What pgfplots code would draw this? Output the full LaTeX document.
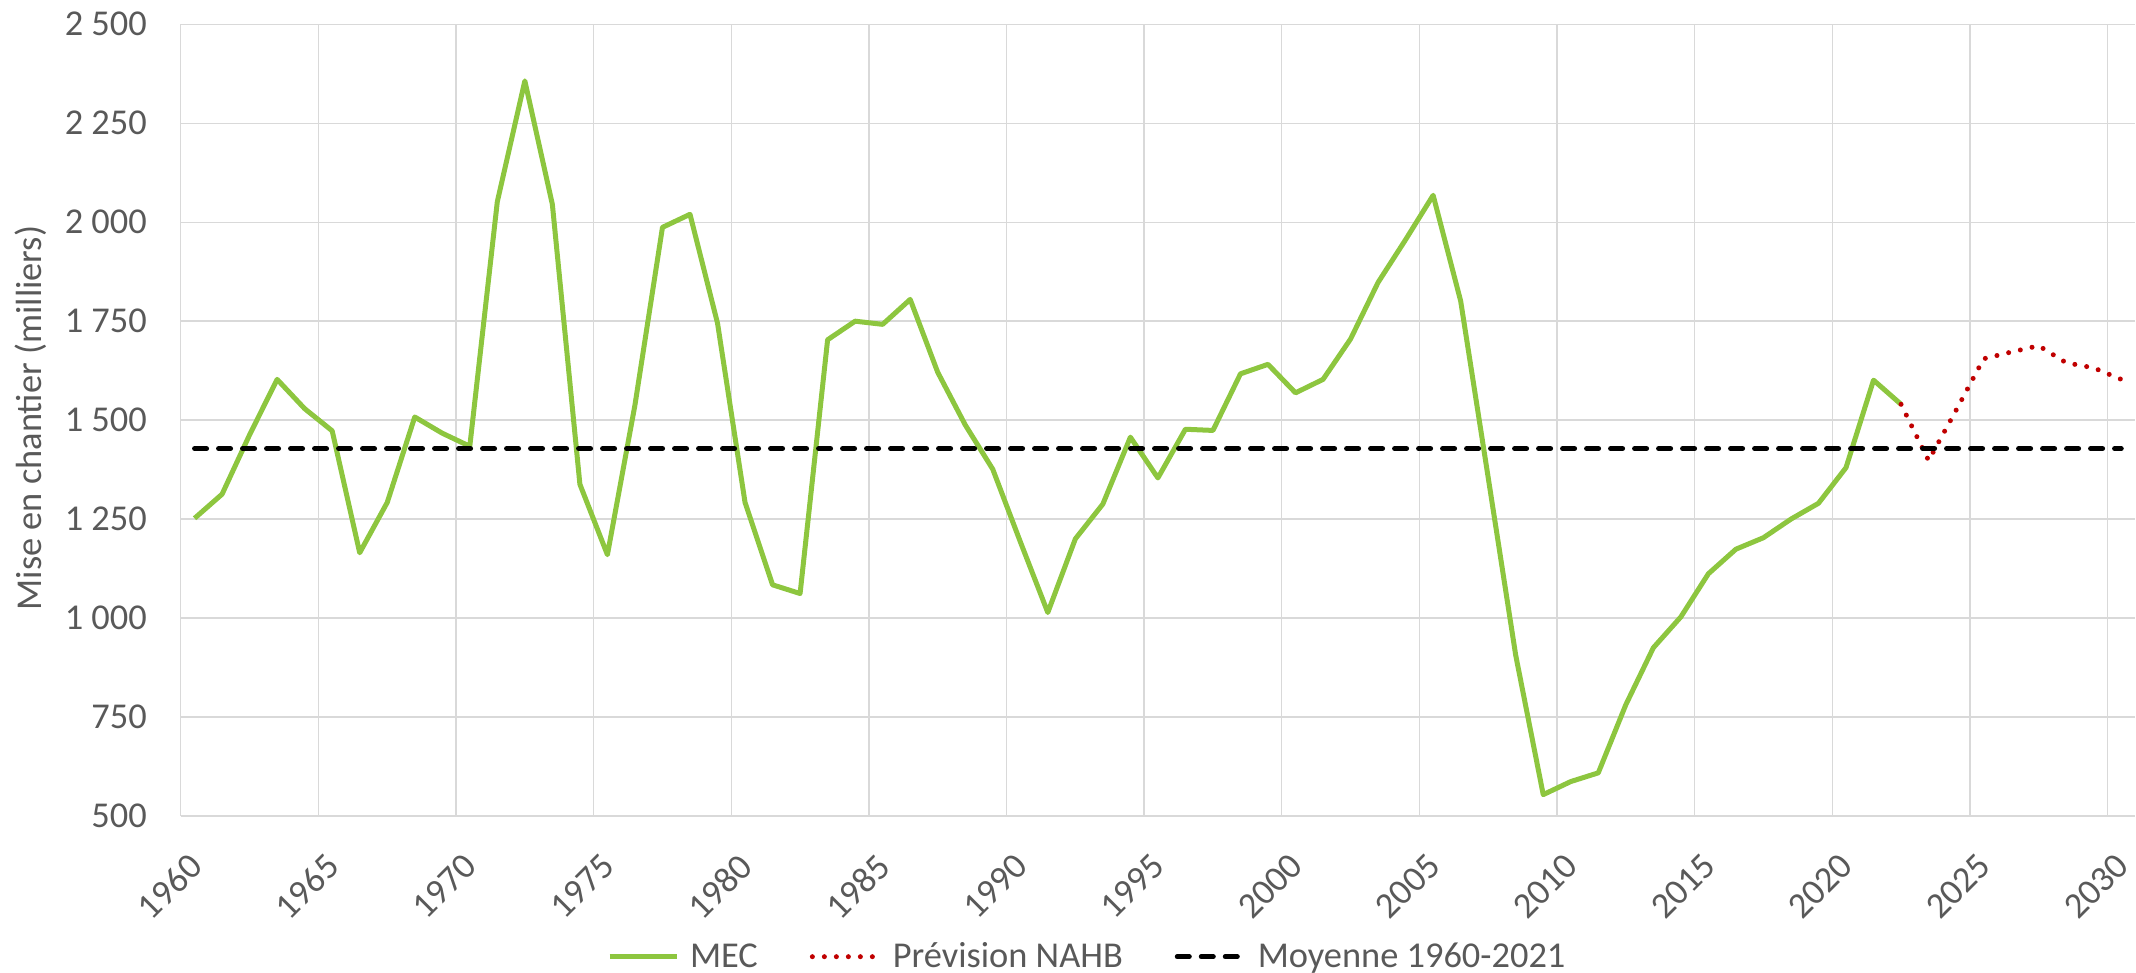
\documentclass[border=0pt]{standalone}
\usepackage{fontspec}
\setmainfont{Carlito}
\usepackage{pgfplots}
\pgfplotsset{compat=1.18}
\definecolor{mecgreen}{RGB}{141,198,63}
\definecolor{navred}{RGB}{192,0,0}
\definecolor{gridgray}{RGB}{217,217,217}
\definecolor{txtgray}{RGB}{89,89,89}
\begin{document}
\begin{tikzpicture}
\useasboundingbox (0,0) rectangle (1068bp,486.5bp);
\begin{axis}[
  at={(90.4bp,78.5bp)}, anchor=south west,
  scale only axis, width=977.1bp, height=395.85bp,
  xmin=1959.5, xmax=2030.5, ymin=500, ymax=2500,
  xtick={1959.5,1964.5,1969.5,1974.5,1979.5,1984.5,1989.5,1994.5,1999.5,2004.5,2009.5,2014.5,2019.5,2024.5,2029.5},
  xticklabels={1960,1965,1970,1975,1980,1985,1990,1995,2000,2005,2010,2015,2020,2025,2030},
  ytick={500,750,1000,1250,1500,1750,2000,2250,2500},
  yticklabels={500,750,1 000,1 250,1 500,1 750,2 000,2 250,2 500},
  major tick length=0pt,
  grid=major,
  major grid style={gridgray, line width=0.7bp},
  axis x line*=bottom, axis y line*=left,
  x axis line style={-, gridgray, line width=1bp},
  y axis line style={-, gridgray, line width=0.7bp},
  tick label style={font=\fontsize{18.2bp}{21bp}\selectfont, text=txtgray},
  yticklabel style={anchor=east, inner sep=0pt, xshift=-16.8bp},
  xticklabel style={xshift=3bp, yshift=-17.5bp, rotate=45, anchor=north east, inner sep=0pt},
  legend columns=3,
  legend style={at={(0.2181,-0.1777)}, anchor=west, draw=none, fill=none,
    inner sep=0pt, outer sep=0pt, column sep=0pt,
    nodes={inner sep=0pt, outer sep=0pt},
    font=\fontsize{18.2bp}{21bp}\selectfont, text=txtgray},
  legend image code/.code={\draw[#1] (0bp,0bp) -- (33.5bp,0bp); \path (39bp,0bp);},
]
\addplot[mecgreen, line width=2.5bp, line join=round] coordinates {
(1960,1252) (1961,1313) (1962,1463) (1963,1603) (1964,1529) (1965,1473)
(1966,1165) (1967,1292) (1968,1508) (1969,1467) (1970,1434) (1971,2052)
(1972,2357) (1973,2045) (1974,1338) (1975,1160) (1976,1538) (1977,1987)
(1978,2020) (1979,1745) (1980,1292) (1981,1084) (1982,1062) (1983,1703)
(1984,1750) (1985,1742) (1986,1805) (1987,1621) (1988,1488) (1989,1376)
(1990,1193) (1991,1014) (1992,1200) (1993,1288) (1994,1457) (1995,1354)
(1996,1477) (1997,1474) (1998,1617) (1999,1641) (2000,1569) (2001,1603)
(2002,1705) (2003,1848) (2004,1956) (2005,2068) (2006,1801) (2007,1355)
(2008,906) (2009,554) (2010,587) (2011,609) (2012,781) (2013,925)
(2014,1003) (2015,1112) (2016,1174) (2017,1203) (2018,1250) (2019,1290)
(2020,1380) (2021,1601) (2022,1540)};
\addlegendentry{MEC\kern26bp}
\addplot[navred, line width=2.5bp, line cap=round, dash pattern=on 0bp off 6bp] coordinates {
(2022,1540) (2023,1398) (2024,1525) (2025,1655) (2026,1672) (2027,1688)
(2028,1645) (2029,1632) (2030,1603)};
\addlegendentry{Prévision NAHB\kern26bp}
\addplot[black, line width=2.5bp, line cap=round, dash pattern=on 6bp off 6bp] coordinates {
(1960,1428) (2030,1428)};
\addlegendentry{Moyenne 1960-2021}
\end{axis}
\node[rotate=90, font=\fontsize{18.2bp}{21bp}\selectfont, text=txtgray] at (15.5bp,277.5bp) {Mise en chantier (milliers)};
\end{tikzpicture}
\end{document}
